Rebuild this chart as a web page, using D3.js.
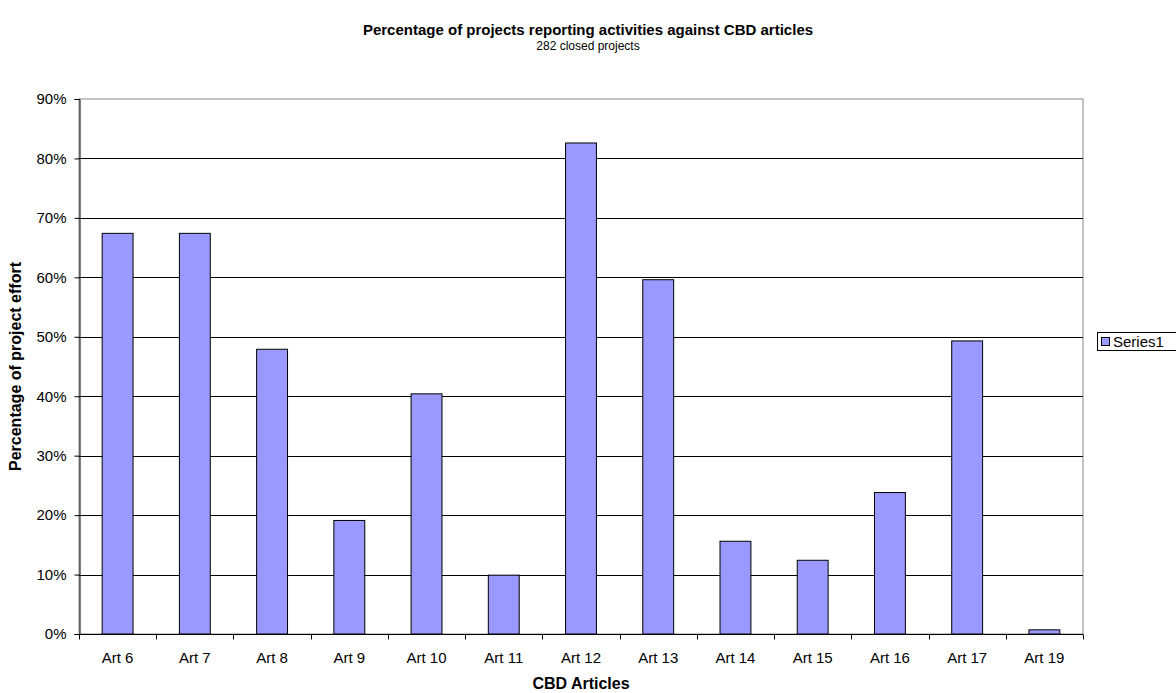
<!DOCTYPE html>
<html>
<head>
<meta charset="utf-8">
<script src="https://cdn.jsdelivr.net/npm/d3@7"></script>
<style>
  html, body { margin: 0; padding: 0; background: #fff; }
  svg { display: block; font-family: "Liberation Sans", Arial, sans-serif; }
</style>
</head>
<body>
<svg id="chart" width="1176" height="693"></svg>
<script>
// CBD articles reported against, share of 282 closed projects (%)
const categories = ["Art 6", "Art 7", "Art 8", "Art 9", "Art 10", "Art 11", "Art 12",
                    "Art 13", "Art 14", "Art 15", "Art 16", "Art 17", "Art 19"];
const seriesValues = [67.4, 67.4, 47.9, 19.1, 40.4, 9.9, 82.6, 59.6, 15.6, 12.4, 23.8, 49.3, 0.7];
const yTicks = [0, 10, 20, 30, 40, 50, 60, 70, 80, 90];
const seriesName = "Series1";

const svg = d3.select("#chart");
const plot = { left: 79, right: 1083, top: 99, bottom: 634 };

const x = d3.scaleBand()
  .domain(categories)
  .range([plot.left, plot.right])
  .paddingInner(0.6)
  .paddingOuter(0.3);

const y = d3.scaleLinear()
  .domain([0, 90])
  .range([plot.bottom, plot.top]);

// plot frame (top and right edges in grey)
svg.append("rect")
  .attr("x", plot.left).attr("y", plot.top)
  .attr("width", plot.right - plot.left).attr("height", plot.bottom - plot.top)
  .attr("fill", "#fff").attr("stroke", "#888").attr("stroke-width", 1);

// horizontal gridlines
svg.append("g")
  .selectAll("line")
  .data(yTicks.filter(d => d > 0 && d < 90))
  .join("line")
  .attr("x1", plot.left).attr("x2", plot.right)
  .attr("y1", d => Math.round(y(d)) + 0.5).attr("y2", d => Math.round(y(d)) + 0.5)
  .attr("stroke", "#000").attr("stroke-width", 1);

// bars
svg.append("g")
  .selectAll("rect")
  .data(seriesValues)
  .join("rect")
  .attr("x", (d, i) => x(categories[i]))
  .attr("y", d => y(d))
  .attr("width", x.bandwidth())
  .attr("height", d => y(0) - y(d))
  .attr("fill", "#9999ff")
  .attr("stroke", "#000")
  .attr("stroke-width", 1);

// y axis
const yAxis = d3.axisLeft(y)
  .tickValues(yTicks)
  .tickFormat(d => d + "%")
  .tickSize(5)
  .tickPadding(8);
const gy = svg.append("g")
  .attr("transform", `translate(${plot.left + 0.5},0)`)
  .call(yAxis);
gy.select(".domain").attr("stroke", "#000");
gy.selectAll("text").attr("font-size", 15).attr("fill", "#000")
  .attr("font-family", "'Liberation Sans', Arial, sans-serif");

// x axis: ticks sit on category boundaries
const xAxisScale = d3.scaleLinear().domain([0, categories.length]).range([plot.left, plot.right]);
const gx = svg.append("g").attr("transform", `translate(0,${plot.bottom + 0.5})`);
gx.append("line")
  .attr("x1", plot.left).attr("x2", plot.right)
  .attr("stroke", "#000");
gx.selectAll("line.tick")
  .data(d3.range(categories.length + 1))
  .join("line")
  .attr("class", "tick")
  .attr("x1", d => Math.round(xAxisScale(d)) + 0.5)
  .attr("x2", d => Math.round(xAxisScale(d)) + 0.5)
  .attr("y1", 0).attr("y2", 5)
  .attr("stroke", "#000");
gx.selectAll("text")
  .data(categories)
  .join("text")
  .attr("x", d => x(d) + x.bandwidth() / 2)
  .attr("y", 28)
  .attr("text-anchor", "middle")
  .attr("font-size", 15)
  .text(d => d);

// titles
svg.append("text")
  .attr("x", 588).attr("y", 35)
  .attr("text-anchor", "middle")
  .attr("font-size", 15).attr("font-weight", "bold")
  .text("Percentage of projects reporting activities against CBD articles");
svg.append("text")
  .attr("x", 588).attr("y", 50)
  .attr("text-anchor", "middle")
  .attr("font-size", 12)
  .text("282 closed projects");

// axis titles
svg.append("text")
  .attr("x", 581).attr("y", 689)
  .attr("text-anchor", "middle")
  .attr("font-size", 16).attr("font-weight", "bold")
  .text("CBD Articles");
svg.append("text")
  .attr("transform", `translate(21,${(plot.top + plot.bottom) / 2}) rotate(-90)`)
  .attr("text-anchor", "middle")
  .attr("font-size", 16).attr("font-weight", "bold")
  .text("Percentage of project effort");

// legend
const lg = svg.append("g").attr("transform", "translate(1097,332)");
lg.append("rect")
  .attr("x", 0.5).attr("y", 0.5)
  .attr("width", 82).attr("height", 18)
  .attr("fill", "#fff").attr("stroke", "#000");
lg.append("rect")
  .attr("x", 4.5).attr("y", 5.5)
  .attr("width", 8).attr("height", 8)
  .attr("fill", "#9999ff").attr("stroke", "#000");
lg.append("text")
  .attr("x", 16).attr("y", 15)
  .attr("font-size", 15)
  .text(seriesName);
</script>
</body>
</html>
